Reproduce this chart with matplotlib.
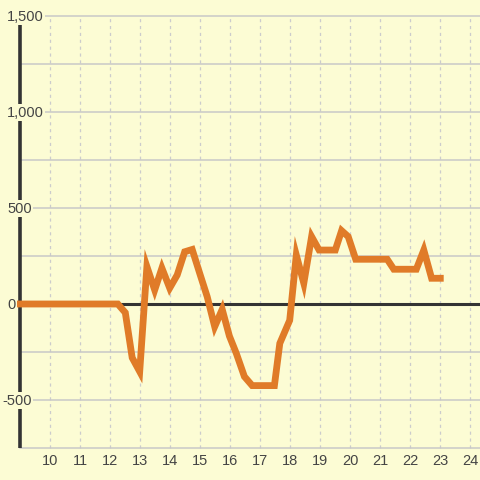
import matplotlib
matplotlib.use("Agg")
import matplotlib.pyplot as plt

# ---- data ----
hours = [9.0, 12.25, 12.5, 12.73, 12.98, 13.22, 13.48, 13.72, 13.98, 14.23, 14.48,
         14.73, 14.98, 15.23, 15.48, 15.73, 15.97, 16.2, 16.47, 16.73, 17.47,
         17.65, 17.98, 18.2, 18.45, 18.71, 18.96, 19.5, 19.71, 19.93, 20.18,
         21.23, 21.45, 22.2, 22.45, 22.71, 23.0]
values = [0, 0, -45, -280, -352, 195, 73, 187, 83, 151, 272,
          284, 160, 38, -118, -28, -167, -257, -378, -425, -425,
          -205, -85, 255, 108, 351, 281, 281, 382, 351, 233,
          233, 181, 181, 281, 134, 134]
x_ticks = list(range(10, 25))
x_tick_labels = [str(t) for t in x_ticks]
y_ticks = [-500, 0, 500, 1000, 1500]
y_tick_labels = ["-500", "0", "500", "1,000", "1,500"]
y_grid = [-750, -500, -250, 250, 500, 750, 1000, 1250, 1500]

BG = "#fcfcd4"
plt.rcParams['font.family'] = ['Liberation Sans', 'DejaVu Sans']

fig = plt.figure(figsize=(4.8, 4.8), dpi=100, facecolor=BG)
ax = fig.add_axes([0, 0, 1, 1])
ax.set_facecolor(BG)
px_x = 30.0
px_y = 0.192
x0 = 9 - 20.3 / px_x
ax.set_xlim(x0, x0 + 480 / px_x)
ax.set_ylim(-(480 - 304) / px_y, 304 / px_y)
ax.axis('off')

# vertical dashed grid
for t in x_ticks:
    ax.plot([t, t], [-750, 1500], color="#cccccc", lw=0.9, ls=(0, (2.5, 3)), zorder=1)
# horizontal grid
for g in y_grid:
    ax.plot([9, 30], [g, g], color="#c8c8c8", lw=1.1, zorder=1)
# left spine
ax.plot([9, 9], [-750, 1500], color="#333333", lw=2.6, solid_capstyle='butt', zorder=3)
# zero line
ax.plot([9, 30], [0, 0], color="#333333", lw=2.2, zorder=2)

# data line
ax.plot(hours, values, color="#e07b28", lw=4.9, solid_joinstyle='miter',
        solid_capstyle='projecting', zorder=4)

# y tick labels (drawn over the spine with background box)
for v, lab in zip(y_ticks, y_tick_labels):
    xpix = 2.3 if lab.startswith('-') else 7
    ax.text(x0 + xpix / px_x, v - 0.6 / px_y, lab, ha='left', va='center', fontsize=10.5,
            color="#444444", zorder=5,
            bbox=dict(facecolor=BG, edgecolor='none', pad=1.0))
# x tick labels
for t, lab in zip(x_ticks, x_tick_labels):
    ax.text(t, -(461 - 304) / px_y, lab, ha='center', va='center', fontsize=10.5,
            color="#444444", zorder=5)

fig.savefig("out.png", dpi=100, facecolor=BG)
